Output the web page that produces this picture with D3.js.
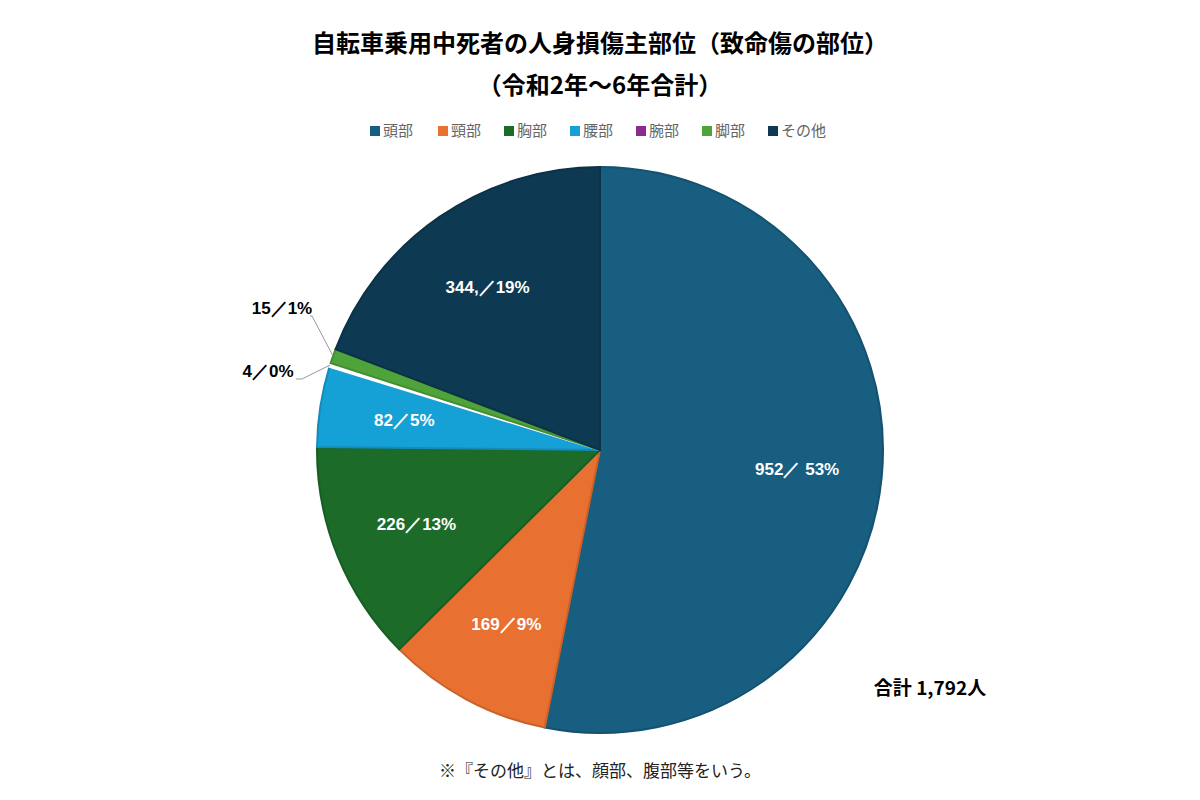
<!DOCTYPE html>
<html><head><meta charset="utf-8">
<script src="https://cdn.jsdelivr.net/npm/d3@7"></script>
<style>body{margin:0;background:#fff;font-family:"Noto Sans CJK JP","Noto Sans",sans-serif;}</style>
</head><body><div id="container"></div>
<script>
let parts = ["頭部", "頸部", "胸部", "腰部", "腕部", "脚部", "その他"];
let counts = [952, 169, 226, 82, 4, 15, 344];
let labels = ["952／ 53%", "169／9%", "226／13%", "82／5%", "4／0%", "15／1%", "344,／19%"];
let colors = ["#175e80", "#e87132", "#1c6b28", "#16a1d6", "#8e2a8e", "#4ea33a", "#0d3a52"];

let svg = d3.select("#container").append("svg").attr("width", 1200).attr("height", 800);

svg.append("text").attr("x", 600).attr("y", 52).attr("text-anchor", "middle")
  .style("font-size", "24px").style("font-weight", "bold").text("自転車乗用中死者の人身損傷主部位（致命傷の部位）");
svg.append("text").attr("x", 600).attr("y", 94).attr("text-anchor", "middle")
  .style("font-size", "24px").style("font-weight", "bold").text("（令和2年～6年合計）");

// legend
let lx = [370, 438, 504, 570, 636, 702, 768];
let leg = svg.selectAll(".leg").data(parts).enter().append("g")
  .attr("transform", (d, i) => "translate(" + lx[i] + ",135)");
leg.append("rect").attr("x", 0).attr("y", -9).attr("width", 10).attr("height", 10).attr("fill", (d, i) => colors[i]);
leg.append("text").attr("x", 13).attr("y", 1).style("font-size", "15px").attr("fill", "#666").text(d => d);

let cx = 600, cy = 450, r = 283;
let pie = d3.pie().sort(null).value(d => d)(counts);
let arc = d3.arc().innerRadius(0).outerRadius(r);
let lab = d3.arc().innerRadius(r * 0.7).outerRadius(r * 0.7);
let g = svg.append("g").attr("transform", "translate(" + cx + "," + cy + ")");

g.selectAll("path").data(pie).enter().append("path")
  .attr("d", arc)
  .attr("fill", (d, i) => i == 4 ? "#ffffff" : colors[i])
  .attr("stroke", (d, i) => i == 4 ? "#ffffff" : d3.color(colors[i]).darker(0.4))
  .attr("stroke-width", 2);

g.selectAll(".in").data(pie.filter((d, i) => i != 4 && i != 5)).enter().append("text")
  .attr("transform", d => "translate(" + lab.centroid(d) + ")")
  .attr("text-anchor", "middle").attr("dy", "0.35em")
  .attr("fill", "#fff").style("font-size", "17px").style("font-weight", "bold")
  .style("font-family", "Arial, 'Liberation Sans', sans-serif")
  .text(d => labels[d.index]);

// outside labels for small slices
let edge = d3.arc().innerRadius(r).outerRadius(r);
let outs = [{i: 5, tx: 282, ty: 314, bx: 312}, {i: 4, tx: 268, ty: 377, bx: 302}];
outs.forEach(o => {
  let p = edge.centroid(pie[o.i]);
  let px = cx + p[0], py = cy + p[1];
  svg.append("polyline")
    .attr("points", [[o.tx + 28, o.ty + 2], [o.bx, o.ty + 2], [px, py]].map(q => q.join(",")).join(" "))
    .attr("fill", "none").attr("stroke", "#999").attr("stroke-width", 1);
  svg.append("text").attr("x", o.tx).attr("y", o.ty).attr("text-anchor", "middle")
    .style("font-size", "17px").style("font-weight", "bold")
    .style("font-family", "Arial, 'Liberation Sans', sans-serif").text(labels[o.i]);
});

svg.append("text").attr("x", 930).attr("y", 695).attr("text-anchor", "middle")
  .style("font-size", "19px").style("font-weight", "bold").text("合計 " + d3.format(",")(d3.sum(counts)) + "人");
svg.append("text").attr("x", 600).attr("y", 777).attr("text-anchor", "middle")
  .style("font-size", "17px").attr("fill", "#222").text("※『その他』とは、顔部、腹部等をいう。");
</script></body></html>
